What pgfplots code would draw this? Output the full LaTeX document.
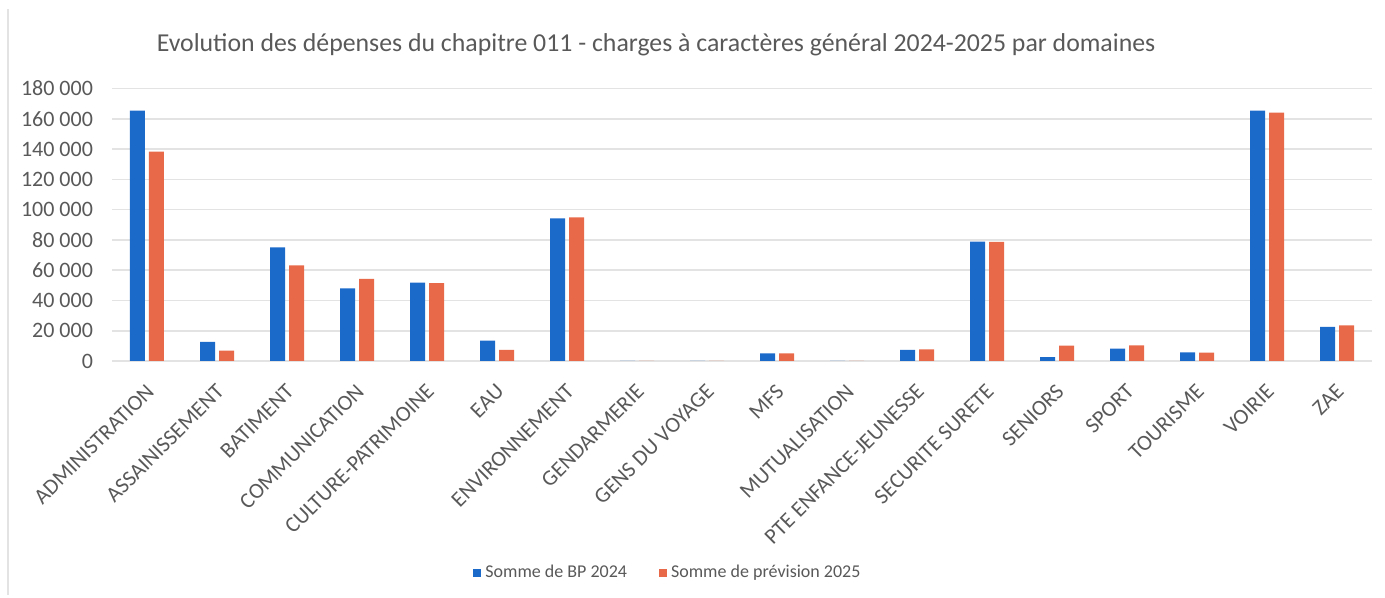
\documentclass[border=0pt]{standalone}
\usepackage{pgfplots}
\pgfplotsset{compat=1.18}
\usepackage{fontspec}
\setmainfont{Carlito}
\definecolor{bp}{HTML}{1B6AC9}
\definecolor{prev}{HTML}{E8694A}
\definecolor{txt}{HTML}{595959}
\definecolor{gridc}{HTML}{E3E3E3}
\begin{document}
\begin{tikzpicture}
\begin{axis}[name=ax, scale only axis, width=630pt, height=136.25pt,
  ybar=2pt, bar width=7.5pt,
  xmin=-0.5, xmax=17.5, ymin=0, ymax=180000,
  ytick={0,20000,...,180000}, scaled y ticks=false,
  yticklabel={\pgfmathprintnumber[fixed, 1000 sep={\ }, assume math mode=true]{\tick}},
  xtick=data,
  xticklabels={ADMINISTRATION,ASSAINISSEMENT,BATIMENT,COMMUNICATION,CULTURE-PATRIMOINE,EAU,ENVIRONNEMENT,GENDARMERIE,GENS DU VOYAGE,MFS,MUTUALISATION,PTE ENFANCE-JEUNESSE,SECURITE SURETE,SENIORS,SPORT,TOURISME,VOIRIE,ZAE},
  xticklabel style={xshift=-1pt, yshift=-6pt, rotate=45, anchor=north east, font=\fontsize{11}{13}\selectfont, text=txt},
  yticklabel style={xshift=-6pt, font=\fontsize{11}{13}\selectfont, text=txt},
  major tick length=0pt, axis line style={draw=none},
  ymajorgrids, grid style={gridc, line width=0.8pt},
  legend style={at={(0.442,-0.778)}, anchor=center, draw=none, legend columns=2,
    font=\fontsize{9}{11}\selectfont, text=txt,
    /tikz/every even column/.append style={column sep=14pt}},
  legend image code/.code={\fill[#1] (0pt,-2pt) rectangle (4pt,2pt);},
]
\addplot[fill=bp, draw=none] coordinates {
  (0,165300)(1,12700)(2,75100)(3,48000)(4,51700)(5,13400)(6,94200)(7,0)(8,0)
  (9,5000)(10,0)(11,7300)(12,78800)(13,2500)(14,8100)(15,5700)(16,165300)(17,22500)};
\addlegendentry{Somme de BP 2024}
\addplot[fill=prev, draw=none] coordinates {
  (0,138300)(1,6800)(2,63200)(3,54200)(4,51500)(5,7300)(6,94900)(7,0)(8,0)
  (9,5000)(10,0)(11,7700)(12,78700)(13,10100)(14,10400)(15,5500)(16,164000)(17,23600)};
\addlegendentry{Somme de prévision 2025}
\end{axis}
\node[text=txt, font=\fontsize{12.9}{15}\selectfont] at ([xshift=272pt, yshift=158pt]ax.south west)
  {Evolution des dépenses du chapitre 011 - charges à caractères général 2024-2025 par domaines};
\draw[gridc, line width=0.8pt] ([xshift=-52pt, yshift=-117pt]ax.south west) -- ([xshift=-52pt, yshift=176pt]ax.south west);
\pgfresetboundingbox
\path[use as bounding box] ([xshift=-56pt, yshift=-118.5pt]ax.south west) rectangle ([xshift=636.5pt, yshift=180.5pt]ax.south west);
\end{tikzpicture}
\end{document}
